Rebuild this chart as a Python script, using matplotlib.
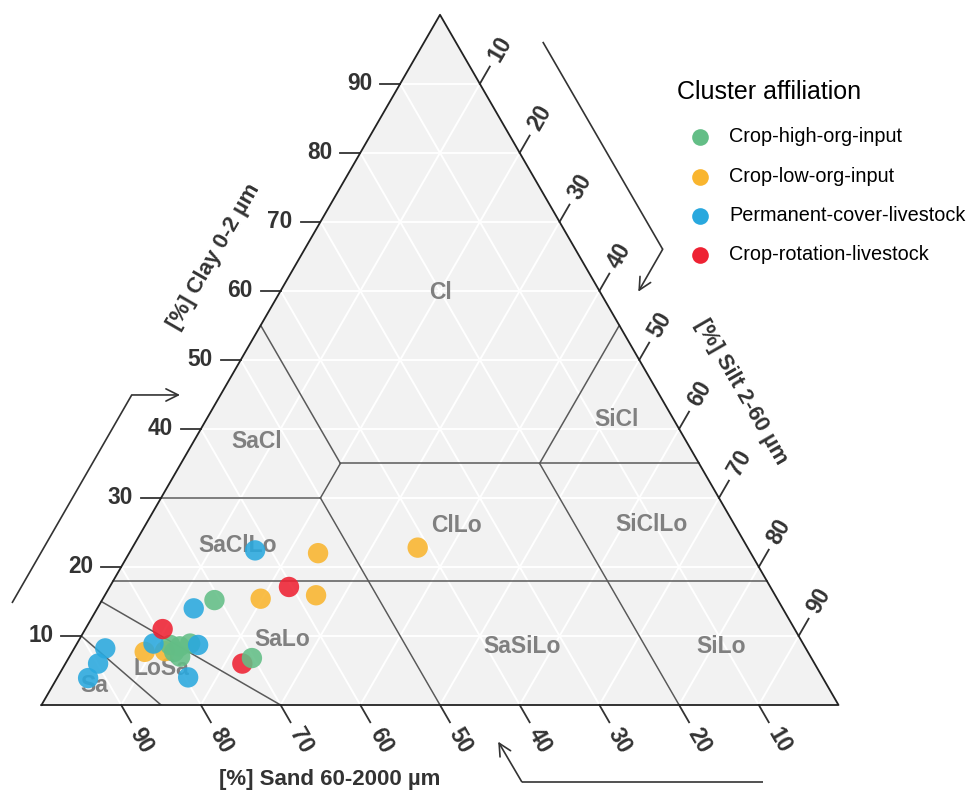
import numpy as np
import matplotlib
matplotlib.use("Agg")
import matplotlib.pyplot as plt
from matplotlib.lines import Line2D

plt.rcParams['font.family'] = ['Liberation Sans', 'DejaVu Sans']

# ---------------- data ----------------
cluster_names = ["Crop-high-org-input", "Crop-low-org-input",
                 "Permanent-cover-livestock", "Crop-rotation-livestock"]
cluster_colors = ["#63be86", "#f9b52e", "#29a8de", "#ee2233"]

# point order = drawing order; group index into cluster_names
group = [1, 1,
         0, 0, 0, 0, 0,
         2, 3, 2, 2,
         2, 2, 2,
         3, 0,
         0, 2,
         1, 1, 3,
         2, 1, 1]
sand = [83.2, 80.6,
        79.5, 79.5, 78.4, 76.9, 79.1,
        81.5, 79.3, 76.0, 79.6,
        87.9, 89.9, 92.2,
        71.8, 70.2,
        70.7, 73.9,
        64.8, 57.6, 60.4,
        62.0, 54.3, 41.4]
silt = [9.1, 11.6,
        11.8, 12.8, 13.1, 14.2, 13.9,
        9.6, 9.7, 15.3, 16.4,
        3.9, 4.1, 3.9,
        22.2, 23.0,
        14.1, 12.1,
        19.8, 26.5, 22.5,
        15.6, 23.7, 35.8]
clay = [7.7, 7.8,
        8.7, 7.7, 8.5, 8.9, 7.0,
        8.9, 11.0, 8.7, 4.0,
        8.2, 6.0, 3.9,
        6.0, 6.8,
        15.2, 14.0,
        15.4, 15.9, 17.1,
        22.4, 22.0, 22.8]

# texture class boundaries, as (sand, silt, clay) end points
boundaries = [
    [(45, 0, 55), (45, 20, 35)],
    [(45, 20, 35), (0, 65, 35)],
    [(45, 20, 35), (50, 20, 30)],
    [(70, 0, 30), (50, 20, 30)],
    [(50, 20, 30), (50, 50, 0)],
    [(20, 45, 35), (0, 45, 55)],
    [(20, 45, 35), (20, 80, 0)],
    [(82, 0, 18), (0, 82, 18)],
    [(85, 0, 15), (70, 30, 0)],
    [(90, 0, 10), (85, 15, 0)],
]
class_names = ["Cl", "SaCl", "SiCl", "SaClLo", "ClLo", "SiClLo",
               "SaLo", "SaSiLo", "SiLo", "LoSa", "Sa"]
tick_values = [10, 20, 30, 40, 50, 60, 70, 80, 90]

# ---------------- layout ----------------
W, H = 969, 794
S3 = np.sqrt(3) / 2
fig = plt.figure(figsize=(W / 100, H / 100), dpi=100)
x0_px, y0_px, w_px = 41.5, 705, 797
ax = fig.add_axes([x0_px / W, (H - y0_px) / H, w_px / W, w_px * S3 / H])
ax.set_xlim(0, 100)
ax.set_ylim(0, 100 * S3)
ax.set_axis_off()


def tern(sa, si, cl):
    sa, si, cl = np.asarray(sa, float), np.asarray(si, float), np.asarray(cl, float)
    tot = sa + si + cl
    si = si / tot * 100
    cl = cl / tot * 100
    return si + cl / 2, cl * S3


# background triangle
tri_x, tri_y = tern([100, 0, 0, 100], [0, 100, 0, 0], [0, 0, 100, 0])
ax.fill(tri_x, tri_y, color="#f2f2f2", zorder=0, lw=0)

# white grid
for v in tick_values:
    r = 100 - v
    for a, b in [((r, 0, v), (0, r, v)),      # clay const
                 ((r, v, 0), (0, v, r)),      # silt const
                 ((v, r, 0), (v, 0, r))]:     # sand const
        xs, ys = tern([a[0], b[0]], [a[1], b[1]], [a[2], b[2]])
        ax.plot(xs, ys, color="white", lw=1.4, zorder=1)

# boundaries
for a, b in boundaries:
    xs, ys = tern([a[0], b[0]], [a[1], b[1]], [a[2], b[2]])
    ax.plot(xs, ys, color="#5a5a5a", lw=1.1, zorder=2)

# outline
ax.plot(tri_x, tri_y, color="#222222", lw=1.3, zorder=3, clip_on=False)

# class labels
class_pos = [(50.0, 51.8), (27.0, 33.1), (72.2, 35.8), (24.6, 20.0),
             (52.0, 22.5), (76.5, 22.6), (30.2, 8.2), (60.3, 7.4),
             (85.3, 7.3), (15.1, 4.6), (6.6, 2.4)]
for name, (px, py) in zip(class_names, class_pos):
    ax.text(px, py, name, color="#808080", fontsize=16.5, fontweight="bold",
            ha="center", va="center", zorder=4)

# ticks
tick_len, lab_off = 2.5, 5.1
tick_col = "#333333"
tick_fs = 16.3
for v in tick_values:
    # clay (left edge), ticks horizontal to the left
    bx, by = tern(100 - v, 0, v)
    d = np.array([-1.0, 0.0])
    ax.plot([bx, bx + d[0] * tick_len], [by, by + d[1] * tick_len],
            color=tick_col, lw=1.3, clip_on=False)
    ax.text(bx + d[0] * lab_off, by + d[1] * lab_off, str(v), color=tick_col,
            fontsize=tick_fs, fontweight="bold", ha="center", va="center")
    # silt (right edge), ticks up-right
    bx, by = tern(0, v, 100 - v)
    d = np.array([0.5, S3])
    ax.plot([bx, bx + d[0] * tick_len], [by, by + d[1] * tick_len],
            color=tick_col, lw=1.3, clip_on=False)
    ax.text(bx + d[0] * lab_off, by + d[1] * lab_off, str(v), color=tick_col,
            fontsize=tick_fs, fontweight="bold", ha="center", va="center",
            rotation=60, rotation_mode="anchor")
    # sand (bottom edge), ticks down-right
    bx, by = tern(v, 100 - v, 0)
    d = np.array([0.5, -S3])
    ax.plot([bx, bx + d[0] * tick_len], [by, by + d[1] * tick_len],
            color=tick_col, lw=1.3, clip_on=False)
    ax.text(bx + d[0] * lab_off, by + d[1] * lab_off, str(v), color=tick_col,
            fontsize=tick_fs, fontweight="bold", ha="center", va="center",
            rotation=-60, rotation_mode="anchor")

# axis titles
ax.text(21.6, 56.3, "[%] Clay 0-2 µm", color=tick_col, fontsize=16, fontweight="bold",
        rotation=60, ha="center", va="center", rotation_mode="anchor")
ax.text(87.8, 39.3, "[%] Silt 2-60 µm", color=tick_col, fontsize=16, fontweight="bold",
        rotation=-60, ha="center", va="center", rotation_mode="anchor")
ax.text(36.2, -9.4, "[%] Sand 60-2000 µm", color=tick_col, fontsize=16, fontweight="bold",
        ha="center", va="center")

# arrows
arrows = [
    [(-3.70, 12.80), (11.32, 38.9), (17.38, 38.9)],
    [(62.9, 83.2), (77.94, 57.18), (74.88, 51.86)],
    [(90.5, -9.62), (60.25, -9.62), (57.3, -4.6)],
]
for pts in arrows:
    xs = [p[0] for p in pts[:-1]]
    ys = [p[1] for p in pts[:-1]]
    ax.plot(xs, ys, color="#333333", lw=1.2, clip_on=False, solid_capstyle="butt")
    ax.annotate("", xy=pts[-1], xytext=pts[-2],
                arrowprops=dict(arrowstyle="->", lw=1.2, color="#333333",
                                mutation_scale=22, shrinkA=0, shrinkB=0),
                annotation_clip=False)

# points
px, py = tern(sand, silt, clay)
cols = [cluster_colors[g] for g in group]
ax.scatter(px, py, s=215, c=cols, alpha=0.88, linewidths=0, zorder=5, clip_on=False)

# legend
fig.text(677 / W, 1 - 92 / H, "Cluster affiliation", fontsize=18, ha="left",
         va="center", color="black")
ly = [137, 176.5, 215.5, 255]
for name, col, yy in zip(cluster_names, cluster_colors, ly):
    fig.add_artist(Line2D([700 / W], [1 - yy / H], marker="o", markersize=12,
                          color=col, markeredgewidth=0, linestyle="none",
                          transform=fig.transFigure))
    fig.text(729 / W, 1 - yy / H, name, fontsize=14.3, ha="left", va="center",
             color="black")

fig.savefig("out.png", dpi=100)
